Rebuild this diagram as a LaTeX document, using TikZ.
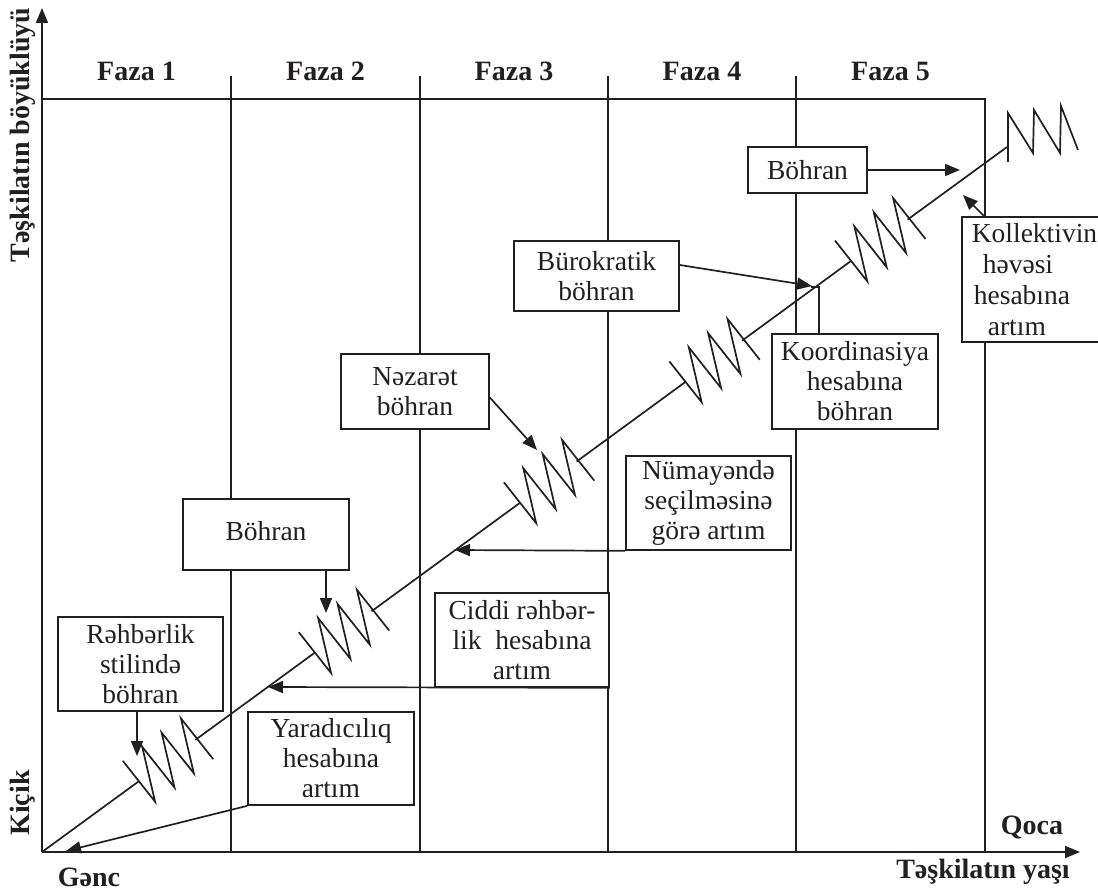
\documentclass[tikz,border=0pt]{standalone}
\usepackage{fontspec}
\setmainfont{Liberation Serif}
\usetikzlibrary{arrows.meta,calc}
\definecolor{ink}{RGB}{35,31,32}
\begin{document}
\begin{tikzpicture}[x=1pt,y=-1pt,line width=1.7pt,draw=ink,
  box/.style={draw=ink,fill=white,line width=1.7pt,inner sep=0pt,align=center,
    font=\fontsize{27.5}{30}\selectfont,text=ink},
  txt/.style={inner sep=0pt,align=left,font=\fontsize{27.5}{31}\selectfont,text=ink},
  lbl/.style={font=\bfseries\fontsize{28}{30}\selectfont,text=ink,inner sep=0pt},
  arr/.style={-{Triangle[length=15pt,width=12pt]}},
  zz/.pic={\draw[line join=miter] (-36pt,26pt) -- (-34pt,-26pt) -- (-12pt,26pt) -- (-10pt,-26pt)
     -- (12pt,26pt) -- (14pt,-26pt) -- (36pt,26pt) -- (38pt,-26pt);}
]
\useasboundingbox (0,0) rectangle (1098,896);
% key coordinates
\coordinate (O) at (42,852);
\coordinate (ytip) at (42,8);
\coordinate (xtip) at (1080,852);
\coordinate (tl) at (42,99);
\coordinate (tr) at (985,99);
\coordinate (br) at (985,852);
% axes
\draw[arr] (O) -- (ytip);
\draw[arr] (O) -- (xtip);
\draw (tl) -- (tr) -- (br);
% phase lines
\foreach \px/\nm in {231/p1,420/p2,608/p3,796/p4}{
  \coordinate (\nm t) at (\px,76);
  \coordinate (\nm b) at (\px,852);
  \draw (\nm t) -- (\nm b);
}
% diagonal growth line with zigzags
\coordinate (e1) at (138.9,781.2); \coordinate (x1) at (195.4,739.9);
\coordinate (e2) at (314.9,652.6); \coordinate (x2) at (371.5,611.3);
\coordinate (e3) at (520.0,502.8); \coordinate (x3) at (576.6,461.5);
\coordinate (e4) at (685.6,381.8); \coordinate (x4) at (742.1,340.6);
\coordinate (e5) at (851.1,260.9); \coordinate (x5) at (907.6,219.6);
\coordinate (c1) at (167.2,760.6);
\coordinate (c2) at (343.2,632.0);
\coordinate (c3) at (548.3,482.1);
\coordinate (c4) at (713.8,361.2);
\coordinate (c5) at (879.4,240.3);
\coordinate (dend) at (1007,147);
\draw (O) -- (e1);
\draw (x1) -- (e2);
\draw (x2) -- (e3);
\draw (x3) -- (e4);
\draw (x4) -- (e5);
\draw (x5) -- (dend);
\foreach \c in {c1,c2,c3,c4,c5}{ \pic[rotate=36.15] at (\c) {zz}; }
\draw[line join=miter] (1008,162) -- (1008,113) -- (1033,153) -- (1034,110) -- (1060,153)
  -- (1061,106) -- (1078,150);
% phase labels
\node[lbl] (f1) at (136.5,71) {Faza 1};
\node[lbl] (f2) at (325.5,71) {Faza 2};
\node[lbl] (f3) at (514,71) {Faza 3};
\node[lbl] (f4) at (702,71) {Faza 4};
\node[lbl] (f5) at (890.5,71) {Faza 5};
% axis labels
\node[lbl,rotate=90] (ylab) at (23,135) {Təşkilatın böyüklüyü};
\node[lbl,rotate=90] (kicik) at (23,803) {Kiçik};
\node[lbl] (genc) at (89,877) {Gənc};
\node[lbl] (qoca) at (1032,827) {Qoca};
\node[lbl] (xlab) at (983,872) {Təşkilatın yaşı};
% boxes
\node[box,minimum width=165pt,minimum height=94pt] (rb) at (140.5,664) {Rəhbərlik\\stilində\\böhran};
\node[box,minimum width=166pt,minimum height=93pt] (yar) at (331,758.5) {Yaradıcılıq\\hesabına\\artım};
\node[box,minimum width=166pt,minimum height=71pt] (bo2) at (266,534.5) {\raisebox{7pt}{Böhran}};
\node[box,minimum width=174pt,minimum height=94pt] (cid) at (522,640) {Ciddi rəhbər-\\lik\ \ hesabına\\artım};
\node[box,minimum width=148pt,minimum height=75pt] (nez) at (415,391.5) {Nəzarət\\böhran};
\node[box,minimum width=165pt,minimum height=94pt] (num) at (708.5,503) {Nümayəndə\\seçilməsinə\\görə artım};
\node[box,minimum width=165pt,minimum height=70pt] (bur) at (596.5,276) {Bürokratik\\böhran};
\node[box,minimum width=166pt,minimum height=95pt] (koo) at (855,381.5) {Koordinasiya\\hesabına\\böhran};
\node[box,minimum width=119pt,minimum height=46pt] (bo5) at (807.5,170) {Böhran};
\node[box,minimum width=138pt,minimum height=125pt] (kol) at (1031,279.5) {};
\node[txt,anchor=west] (koltxt) at (971,280) {Kollektivin\\\hspace*{11pt}həvəsi\\\hspace*{2pt}hesabına\\\hspace*{16pt}artım};
% arrows
\coordinate (a1) at (137,756);
\draw[arr] (rb.south -| a1) -- (a1);
\coordinate (a2) at (66,851);
\draw[arr] (yar.south west) -- (a2);
\coordinate (a3) at (326,613);
\draw[arr] (bo2.south -| a3) -- (a3);
\coordinate (a4) at (268,687);
\draw[arr] (cid.south east) -- (a4);
\coordinate (a5) at (537,450);
\draw[arr] ($(nez.east)+(0,6)$) -- (a5);
\coordinate (a6) at (455,550);
\draw[arr] (num.south west) -- (a6);
\coordinate (a7) at (812,286);
\draw[arr] ($(bur.east)+(0,-11)$) -- (a7);
\coordinate (k1) at (819,287);
\coordinate (k2) at (811,287);
\draw (koo.north -| k1) -- (k1) -- (k2);
\coordinate (a9) at (960,170);
\draw[arr] (bo5.east) -- (a9);
\coordinate (k0) at (985,217);
\coordinate (a10) at (963,195);
\draw[arr] (k0) -- (a10);
\end{tikzpicture}
\end{document}
